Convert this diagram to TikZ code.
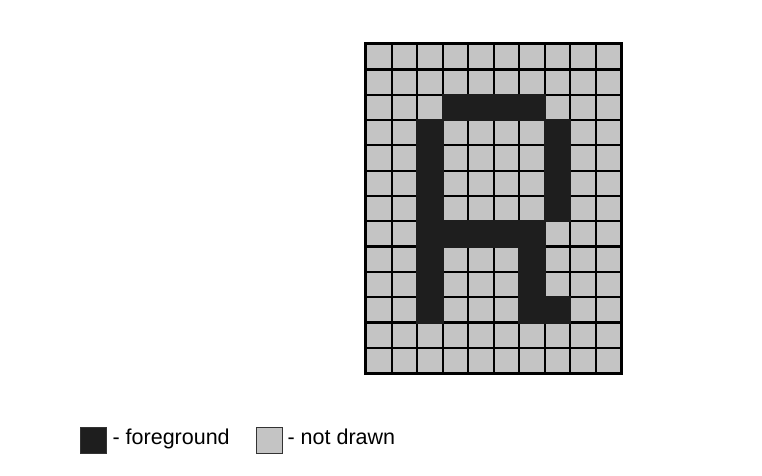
\documentclass[tikz,border=0pt]{standalone}
\usepackage{fontspec}
\setmainfont{Liberation Sans}
\usepackage{tikz}
\usetikzlibrary{positioning}
\definecolor{offcell}{RGB}{196,196,196}
\definecolor{oncell}{RGB}{30,30,30}

\begin{document}
\begin{tikzpicture}[x=1pt, y=-1pt,
    cell/.style={draw=black, line width=2.2pt, fill=offcell, minimum width=25.5pt, minimum height=25.3pt, inner sep=0pt, anchor=north west},
    oncellbox/.style={cell, draw=oncell, fill=oncell},
    keybox/.style={draw=black!80, line width=0.8pt, minimum width=26pt, minimum height=26pt, inner sep=0pt},
    lbl/.style={font=\fontsize{21.5}{25}\selectfont, inner sep=0pt, text height=0.72em, text depth=0.2em, yshift=-1.5pt},
]
\useasboundingbox[fill=white] (0,0) rectangle (762,475);

% the 10 x 13 raster, all pixels off first
\foreach \r in {0,...,12}
  \foreach \c in {0,...,9}
    \node[cell] (px-\r-\c) at (365+25.5*\c, 43+25.3*\r) {};

% pixels of the letter
\foreach \r/\c in {2/3,2/4,2/5,2/6,
                   3/2,3/7,4/2,4/7,5/2,5/7,6/2,6/7,
                   7/2,7/3,7/4,7/5,7/6,
                   8/2,8/6,9/2,9/6,
                   10/2,10/6,10/7}
  \node[oncellbox] (on-\r-\c) at (365+25.5*\c, 43+25.3*\r) {};

\draw[line width=2.4pt] (px-0-0.north west) rectangle (px-12-9.south east);

% legend
\node[keybox, fill=oncell] (fgkey) at (93,440) {};
\node[lbl, right=6pt of fgkey] (fglbl) {- foreground};
\node[keybox, fill=offcell] (bgkey) at (269,440) {};
\node[lbl, right=5pt of bgkey] (bglbl) {- not drawn};
\end{tikzpicture}
\end{document}
